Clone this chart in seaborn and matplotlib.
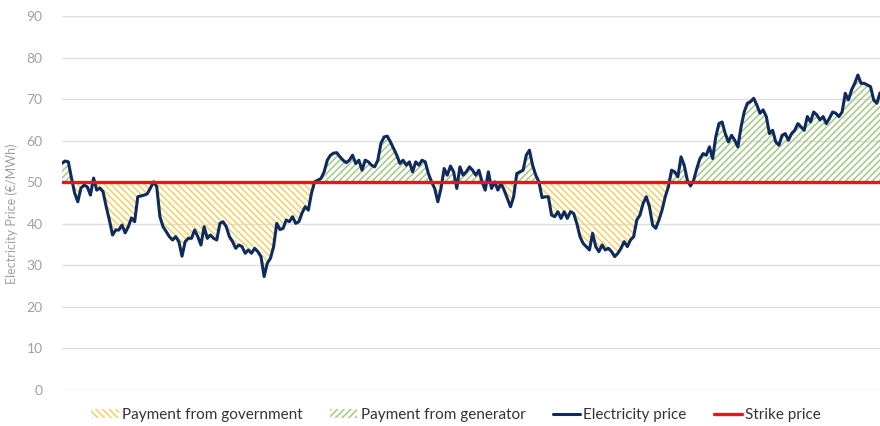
import numpy as np
import pandas as pd
import matplotlib
matplotlib.use("Agg")
import matplotlib.pyplot as plt
import seaborn as sns
from matplotlib.patches import Patch
from matplotlib.lines import Line2D

# electricity price in order (EUR/MWh)
price_part1 = [54.6, 55.1, 54.9, 51.0, 47.4, 45.3, 48.6, 49.3, 48.9, 46.9, 51.0, 48.1, 48.6, 47.7,
               44.1, 40.9, 37.3, 38.5, 38.5, 39.7, 37.8, 39.3, 41.4, 40.5, 46.5, 46.7, 46.9, 47.2,
               48.6, 50.1, 48.9, 41.7, 39.3, 38.1, 36.9, 36.1, 36.9, 35.7, 32.2, 35.7, 36.5, 36.5,
               38.5, 36.9, 34.9, 39.3, 36.5, 37.3, 36.5, 36.1, 40.1, 40.5, 39.3, 36.9, 35.7, 34.1,
               34.9, 34.5, 32.9, 33.7, 32.9, 34.1, 33.3, 32.1, 27.3, 30.5, 31.7, 34.5, 40.1, 38.6,
               38.9, 40.9, 40.5, 41.7, 40.1, 40.5, 42.6]
price_part2 = [44.1, 43.3, 47.4, 50.1, 50.5, 50.9, 52.5, 55.3, 56.5, 57.0, 57.1, 56.1, 55.3, 54.7,
               55.3, 56.5, 54.5, 55.3, 52.9, 55.3, 54.9, 54.1, 53.7, 55.3, 59.4, 60.9, 61.1, 59.7,
               58.1, 56.5, 54.5, 55.3, 54.1, 54.9, 52.5, 54.9]
price_part3 = [54.1, 55.3, 54.9, 52.1, 50.1, 48.5, 45.3, 48.5, 53.3, 51.7, 53.9, 52.5, 48.5, 53.7,
               51.7, 52.5, 53.7, 52.9, 51.7, 52.9, 50.1, 48.1, 52.5, 48.5, 50.1, 48.1, 49.7, 48.1,
               46.1, 44.1, 46.5, 52.1, 52.5, 52.9, 56.5, 57.7, 54.1, 51.7, 50.1]
price_part4 = [46.3, 46.5, 46.5, 42.1, 41.7, 42.9, 41.3, 42.9, 41.3, 42.9, 42.5, 40.1, 36.9, 35.3,
               34.5, 33.7, 37.7, 34.5, 33.3, 34.9, 33.7, 34.1, 33.3, 32.1, 32.9, 34.1, 35.7, 34.5,
               36.1, 36.9, 40.9, 42.1, 44.9, 46.5, 44.1, 39.7, 38.9, 40.9, 43.3, 46.5, 48.9]
price_part5 = [52.9, 52.5, 51.3, 56.1, 54.1, 50.5, 49.1, 50.5, 53.3, 55.7, 56.9, 56.5, 58.5, 55.7,
               60.9, 64.1, 64.5, 61.7, 59.7, 61.3, 60.1, 58.5, 63.3, 66.9, 69.0, 69.4, 70.2, 68.6,
               66.6, 67.4, 65.8, 61.7, 62.5, 59.7, 58.9]
price_part6 = [61.3, 61.7, 60.1, 61.7, 62.5, 64.1, 63.3, 62.5, 65.8, 64.5, 66.9, 66.2, 65.0, 65.8,
               64.1, 65.4, 66.9, 66.6, 65.8, 66.9, 71.4, 69.8, 72.2, 73.8, 75.8, 73.8, 73.8, 73.4,
               73.0, 69.8, 69.0, 71.5]
strike_price = 50
y_ticks = [0, 10, 20, 30, 40, 50, 60, 70, 80, 90]

price = price_part1 + price_part2 + price_part3 + price_part4 + price_part5 + price_part6
df = pd.DataFrame({"period": np.arange(len(price)), "price": price})

NAVY = "#0f2a5c"
RED = "#e8161b"
YELLOW = "#f2d36b"
GREEN = "#a9cc8c"
GREY_TXT = "#a0a0a0"
HATCH_GOV = "\\" * 5
HATCH_GEN = "/" * 5

sns.set_style("white")
plt.rcParams["font.family"] = ["Lato", "DejaVu Sans"]
plt.rcParams["hatch.linewidth"] = 1.2

fig = plt.figure(figsize=(8.8, 4.26), dpi=100)
ax = fig.add_axes([62 / 880, 1 - 390 / 426, 1 - 62 / 880, 374 / 426])

x = df["period"].to_numpy()
y = df["price"].to_numpy()

# hatched areas between price and strike
ax.fill_between(x, y, strike_price, where=y <= strike_price, interpolate=True,
                facecolor="none", edgecolor=YELLOW, hatch=HATCH_GOV, linewidth=0, zorder=1)
ax.fill_between(x, y, strike_price, where=y >= strike_price, interpolate=True,
                facecolor="none", edgecolor=GREEN, hatch=HATCH_GEN, linewidth=0, zorder=1)

sns.lineplot(data=df, x="period", y="price", color=NAVY, linewidth=2.2, ax=ax, zorder=3)
ax.axhline(strike_price, color=RED, linewidth=2.4, zorder=4)

ax.set_xlim(0, len(price) - 1)
ax.set_ylim(0, 90)
ax.set_yticks(y_ticks)
ax.set_xticks([])
ax.yaxis.grid(True, color="#dedede", linewidth=1.0)
ax.set_axisbelow(True)
for s in ax.spines.values():
    s.set_visible(False)
ax.tick_params(axis="y", length=0, pad=14, labelsize=10, labelcolor=GREY_TXT)
ax.set_xlabel("")
ax.set_ylabel("Electricity Price (€/MWh)", fontsize=9, color=GREY_TXT)
ax.yaxis.set_label_coords(-0.054, 0.47)

handles = [
    Patch(facecolor="none", edgecolor=YELLOW, hatch=HATCH_GOV, linewidth=0, label="Payment from government"),
    Patch(facecolor="none", edgecolor=GREEN, hatch=HATCH_GEN, linewidth=0, label="Payment from generator"),
    Line2D([0], [0], color=NAVY, linewidth=2.2, label="Electricity price"),
    Line2D([0], [0], color=RED, linewidth=2.4, label="Strike price"),
]
fig.legend(handles=handles, loc="center", bbox_to_anchor=(0.518, 1 - 415 / 426), ncol=4,
           frameon=False, fontsize=11, handlelength=1.8, handleheight=0.6, handletextpad=0.2,
           columnspacing=1.8, labelcolor="#333333")

fig.savefig("out.png", dpi=100)
